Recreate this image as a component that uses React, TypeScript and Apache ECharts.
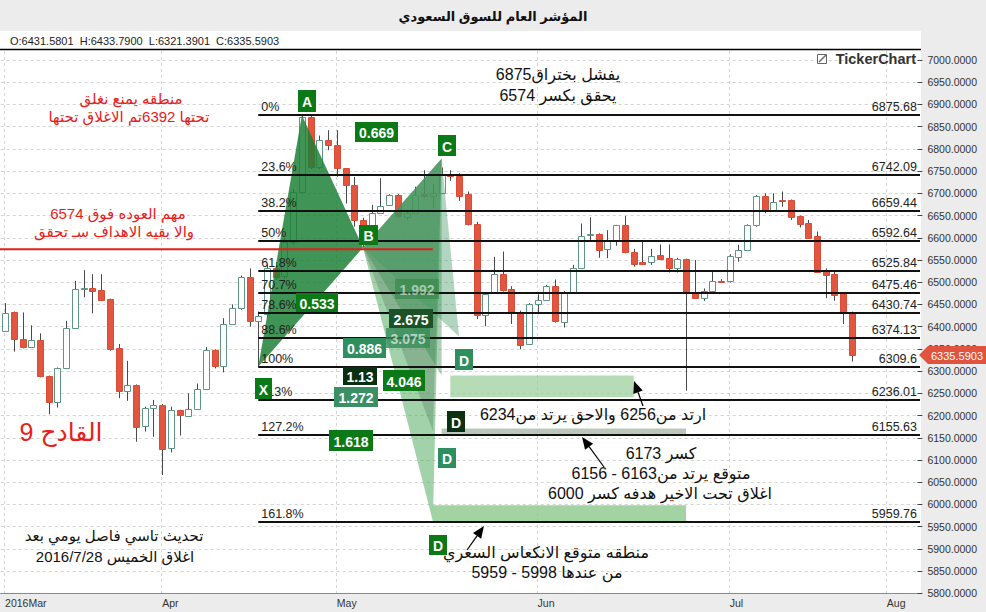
import React, { useEffect, useRef } from "react";
import * as echarts from "echarts";

// ---- trading days (Sun-Thu sessions) ----
const marDays = [8, 9, 10, 13, 14, 15, 16, 17, 20, 21, 22, 23, 24, 27, 28, 29, 30, 31];
const aprDays = [3, 4, 5, 6, 7, 10, 11, 12, 13, 14, 17, 18, 19, 20, 21, 24, 25, 26, 27, 28];
const mayDays = [1, 2, 3, 4, 5, 8, 9, 10, 11, 12, 15, 16, 17, 18, 19, 22, 23, 24, 25, 26, 29, 30, 31];
const junDays = [1, 2, 5, 6, 7, 8, 9, 12, 13, 14, 15, 16, 19, 20, 21, 22, 23, 26, 27, 28, 29, 30];
const julDays = [10, 11, 12, 13, 14, 17, 18, 19, 20, 21, 24, 25, 26, 27, 28];
const futureSlots = ["2016-07-31", "2016-08-a", "2016-08-b", "2016-08-01", "2016-08-02", "2016-08-03", "2016-08-04"];

const monthTickIdx = [0, 18, 38, 61, 83, 101];
const monthTickLabels = ["2016Mar", "Apr", "May", "Jun", "Jul", "Aug"];

// ---- OHLC ----
const opens = [6390, 6432, 6372, 6354, 6370, 6289, 6231, 6306, 6396, 6484, 6487, 6482, 6462, 6351, 6256, 6268, 6177, 6216,
  6224, 6126, 6212, 6200, 6214, 6259, 6347, 6312, 6405, 6443, 6511, 6412, 6428, 6533, 6515, 6590, 6704, 6872, 6760, 6821,
  6809, 6756, 6719, 6640, 6629, 6656, 6674, 6696, 6647, 6655, 6698, 6694, 6700, 6743, 6739, 6698, 6631, 6426, 6476, 6518, 6485, 6430, 6362,
  6450, 6460, 6491, 6411, 6476, 6533, 6606, 6608, 6574, 6593, 6628, 6567, 6545, 6545, 6561, 6554, 6533, 6552, 6476, 6465, 6481, 6503,
  6503, 6556, 6572, 6629, 6694, 6662, 6684, 6685, 6649, 6634, 6604, 6526, 6518, 6475, 6431.5801];
const closes = [6431, 6372, 6355, 6370, 6288, 6231, 6306, 6396, 6484, 6486, 6480, 6460, 6349, 6256, 6268, 6175, 6216, 6223,
  6125, 6212, 6201, 6214, 6259, 6347, 6312, 6405, 6443, 6511, 6413, 6425, 6531, 6511, 6590, 6703, 6872, 6760, 6821, 6808,
  6756, 6719, 6640, 6627, 6655, 6671, 6696, 6648, 6655, 6696, 6694, 6700, 6741, 6738, 6695, 6630, 6426, 6473, 6518, 6482, 6432, 6359, 6450,
  6460, 6491, 6413, 6476, 6533, 6605, 6609, 6572, 6593, 6628, 6567, 6542, 6541, 6559, 6552, 6533, 6552, 6476, 6465, 6481, 6503, 6500,
  6559, 6572, 6629, 6694, 6662, 6681, 6683, 6647, 6632, 6600, 6524, 6516, 6471, 6431, 6335.5903];
const lows = [6388, 6344, 6351, 6352, 6286, 6203, 6218, 6305, 6395, 6466, 6430, 6458, 6346, 6239, 6233, 6141, 6164, 6152,
  6066, 6117, 6155, 6197, 6213, 6258, 6306, 6297, 6404, 6438, 6400, 6310, 6420, 6505, 6508, 6585, 6700, 6755, 6755, 6797,
  6737, 6677, 6625, 6578, 6625, 6654, 6672, 6644, 6640, 6654, 6690, 6666, 6698, 6728, 6683, 6628, 6417, 6401, 6475, 6479, 6406, 6349, 6359,
  6428, 6458, 6409, 6398, 6475, 6532, 6591, 6555, 6554, 6582, 6565, 6535, 6539, 6539, 6550, 6522, 6522, 6256, 6463, 6458, 6480, 6499,
  6499, 6546, 6571, 6625, 6655, 6661, 6670, 6640, 6623, 6598, 6522, 6464, 6458, 6406, 6321.3901];
const highs = [6453, 6434, 6432, 6403, 6385, 6290, 6308, 6413, 6503, 6527, 6518, 6518, 6463, 6361, 6323, 6270, 6220, 6235,
  6226, 6220, 6213, 6250, 6272, 6354, 6349, 6419, 6450, 6515, 6531, 6434, 6540, 6545, 6600, 6710, 6876, 6875, 6830, 6842,
  6842, 6757, 6737, 6645, 6674, 6734, 6698, 6698, 6662, 6715, 6752, 6722, 6758, 6752, 6745, 6704, 6636, 6475, 6557, 6569, 6491, 6436, 6453,
  6473, 6494, 6506, 6480, 6539, 6632, 6646, 6610, 6617, 6629, 6649, 6575, 6593, 6575, 6585, 6585, 6555, 6553, 6550, 6486, 6525, 6507,
  6563, 6584, 6630, 6696, 6700, 6700, 6704, 6686, 6650, 6640, 6614, 6531, 6523, 6476, 6433.79];

// ---- Fibonacci levels ----
const fibPct = ["0%", "23.6%", "38.2%", "50%", "61.8%", "70.7%", "78.6%", "88.6%", "100%", "113%", "127.2%", "161.8%"];
const fibVal = [6875.68, 6742.09, 6659.44, 6592.64, 6525.84, 6475.46, 6430.74, 6374.13, 6309.6, 6236.01, 6155.63, 5959.76];
const fibTxt = ["6875.68", "6742.09", "6659.44", "6592.64", "6525.84", "6475.46", "6430.74", "6374.13", "6309.6", "6236.01", "6155.63", "5959.76"];

// ---- harmonic pattern points [index, price] ----
const ptX = [29, 6309.6];
const ptA = [34, 6875.68];
const ptB = [41, 6578];
const ptC = [50, 6778];
const dPoints = [[49, 5962], [49, 6165], [50, 6290], [52, 6378]];
const dColors = ["rgba(70,165,85,0.5)", "rgba(95,130,105,0.38)", "rgba(60,140,80,0.42)", "rgba(70,155,100,0.42)"];

// zones [i1, i2, pTop, pBottom]
const zones = [[51, 72, 6290, 6241], [50, 78, 6171, 6158], [49, 78, 5998, 5959]];
const zoneColors = ["rgba(150,205,150,0.7)", "rgba(170,185,170,0.8)", "rgba(140,200,140,0.8)"];

const supportLine = 6574;

const FONT = "Arial, 'Liberation Sans', 'DejaVu Sans', sans-serif";

function buildGraphic(chart: any) {
  const px = (i: number, v: number) => chart.convertToPixel({ gridIndex: 0 }, [i, v]);
  const els: any[] = [];
  // white panel
  els.push({ type: "rect", z: -10, silent: true, shape: { x: 0, y: 31, width: 921, height: 562.5 }, style: { fill: "#ffffff" } });
  els.push({ type: "line", z: 1, shape: { x1: 0, y1: 49.5, x2: 921, y2: 49.5 }, style: { stroke: "#000", lineWidth: 1.5 } });
  monthTickIdx.forEach((i) => {
    const x = Math.round(px(i, 6000)[0]) - 0.5;
    els.push({ type: "line", z: 1, silent: true, shape: { x1: x, y1: 51, x2: x, y2: 593 }, style: { stroke: "#d4d4d4", lineWidth: 1, lineDash: [3, 3] } });
  });
  // title & info
  els.push({ type: "text", z: 10, x: 493, y: 16, style: { text: "المؤشر العام للسوق السعودي", fill: "#111", font: `bold 13px ${FONT}`, textAlign: "center", textVerticalAlign: "middle" } });
  const n = opens.length - 1;
  const info = `O:${opens[n].toFixed(4)}  H:${highs[n].toFixed(4)}  L:${lows[n].toFixed(4)}  C:${closes[n].toFixed(4)}`;
  els.push({ type: "text", z: 10, x: 10, y: 41, style: { text: info, fill: "#222", font: `11px ${FONT}`, textAlign: "left", textVerticalAlign: "middle" } });
  // logo
  els.push({ type: "rect", z: 10, shape: { x: 817.5, y: 54.5, width: 9, height: 9 }, style: { fill: "#fff", stroke: "#666", lineWidth: 1 } });
  els.push({ type: "line", z: 10, shape: { x1: 819, y1: 62, x2: 826, y2: 55 }, style: { stroke: "#666", lineWidth: 1.5 } });
  els.push({ type: "text", z: 10, x: 916, y: 59, style: { text: "TickerChart", fill: "#333", font: `bold 14.5px ${FONT}`, textAlign: "right", textVerticalAlign: "middle" } });

  // pattern triangles
  const X = px(ptX[0], ptX[1]), A = px(ptA[0], ptA[1]), B = px(ptB[0], ptB[1]), C = px(ptC[0], ptC[1]);
  dPoints.forEach((d, k) => {
    const D = px(d[0], d[1]);
    els.push({ type: "polygon", z: 3, silent: true, shape: { points: [B, C, D] }, style: { fill: dColors[k] } });
  });
  els.push({ type: "polygon", z: 3, silent: true, shape: { points: [X, A, B] }, style: { fill: "rgba(28,128,52,0.84)" } });
  // zones
  zones.forEach((zn, k) => {
    const p1 = px(zn[0], zn[2]), p2 = px(zn[1], zn[3]);
    els.push({ type: "rect", z: 3, silent: true, shape: { x: p1[0], y: p1[1], width: p2[0] - p1[0], height: p2[1] - p1[1] }, style: { fill: zoneColors[k] } });
  });
  // fib lines
  const xs = px(ptX[0], 0)[0];
  fibVal.forEach((v, k) => {
    const y = Math.round(px(0, v)[1]);
    els.push({ type: "line", z: 4, silent: true, shape: { x1: xs, y1: y, x2: 920, y2: y }, style: { stroke: "#111", lineWidth: 2 } });
    els.push({ type: "text", z: 4, x: xs + 3, y: y - 2, style: { text: fibPct[k], fill: "#222", font: `12.5px ${FONT}`, textAlign: "left", textVerticalAlign: "bottom" } });
    els.push({ type: "text", z: 4, x: 917, y: y - 2, style: { text: fibTxt[k], fill: "#222", font: `12.5px ${FONT}`, textAlign: "right", textVerticalAlign: "bottom" } });
  });
  // red support line
  const ry = px(0, supportLine)[1];
  els.push({ type: "line", z: 4, silent: true, shape: { x1: 0, y1: ry, x2: px(49, supportLine)[0], y2: ry }, style: { stroke: "#e0201c", lineWidth: 2 } });

  // label boxes
  const box = (t: string, cx: number, cy: number, w: number, h: number, bg: string, fg = "#fff") => {
    els.push({ type: "rect", z: 6, shape: { x: cx - w / 2, y: cy - h / 2, width: w, height: h }, style: { fill: bg } });
    els.push({ type: "text", z: 7, x: cx, y: cy + 1, style: { text: t, fill: fg, font: `bold 14px ${FONT}`, textAlign: "center", textVerticalAlign: "middle" } });
  };
  box("A", 307, 101, 18, 22, "#0b7a16");
  box("B", 368.5, 235, 19, 20, "#0b7a16");
  box("C", 447, 145.5, 18, 21, "#0b7a16");
  box("X", 263.5, 388.5, 17, 21, "#0b7a16");
  box("0.669", 376.5, 132, 43, 20, "#0b7a16");
  box("0.533", 317, 302.5, 42, 19, "#0b7a16");
  box("1.992", 417, 289, 44, 20, "rgba(45,130,65,0.55)", "rgba(255,255,255,0.55)");
  box("2.675", 411, 318.5, 44, 19, "#1c5228");
  box("3.075", 408, 338, 44, 20, "rgba(55,140,90,0.8)", "rgba(255,255,255,0.6)");
  box("0.886", 364.5, 348, 43, 20, "#2f8e5e");
  box("1.13", 360, 376, 34, 18, "#0a2e10");
  box("4.046", 404, 380.5, 42, 21, "#0b7a16");
  box("1.272", 356, 397, 44, 20, "#3b8f64");
  box("1.618", 351, 440.5, 44, 21, "#0b7a16");
  box("D", 464, 359.5, 18, 21, "#2f8e5e");
  box("D", 456, 421.5, 18, 21, "#0b3012");
  box("D", 447, 458, 18, 20, "#2f8e5e");
  box("D", 438, 545, 18, 20, "#0b7a16");

  // arrows
  const arrow = (x1: number, y1: number, x2: number, y2: number) => {
    const dx = x2 - x1, dy = y2 - y1, L = Math.hypot(dx, dy), ux = dx / L, uy = dy / L;
    const hl = 12, hw = 5, bx = x2 - ux * hl, by = y2 - uy * hl;
    els.push({ type: "line", z: 6, shape: { x1, y1, x2: bx, y2: by }, style: { stroke: "#000", lineWidth: 1.2 } });
    els.push({ type: "polygon", z: 6, shape: { points: [[x2, y2], [bx - uy * hw, by + ux * hw], [bx + uy * hw, by - ux * hw]] }, style: { fill: "#000" } });
  };
  arrow(643, 406, 634, 381);
  arrow(604, 467, 582, 437);
  arrow(467, 550, 484, 526);

  // texts
  const txt = (t: string, x: number, y: number, size: number, color: string) => {
    els.push({ type: "text", z: 8, x, y, style: { text: t, fill: color, font: `${size}px ${FONT}`, textAlign: "center", textVerticalAlign: "middle" } });
  };
  const black = "#111";
  const red = "#e8201c";
  txt("يفشل بختراق6875", 558, 74, 16, black);
  txt("يحقق بكسر 6574", 558, 95, 16, black);
  txt("ارتد من6256 والاحق يرتد من6234", 593, 414, 16, black);
  txt("كسر 6173", 661, 453, 16, black);
  txt("متوقع يرتد من6163 - 6156", 661, 473, 16, black);
  txt("اغلاق تحت الاخير هدفه كسر 6000", 660, 493, 16, black);
  txt("منطقه متوقع الانكعاس السعري", 546, 552, 16, black);
  txt("من عندها 5998 - 5959", 547, 572, 16, black);
  txt("تحديث تاسي فاصل يومي بعد", 114, 535, 15, black);
  txt("اغلاق الخميس 2016/7/28", 115, 556, 15, black);
  txt("منطقه يمنع نغلق", 131, 98, 15, red);
  txt("تحتها 6392تم الاغلاق تحتها", 129, 116, 15, red);
  txt("مهم العوده فوق 6574", 118, 213, 15, red);
  txt("والا بقيه الاهداف سـ تحقق", 114, 231, 15, red);
  txt("القادح 9", 61, 432, 25, red);

  // last price tag
  const ty = Math.round(px(n, closes[n])[1]);
  els.push({ type: "polygon", z: 9, shape: { points: [[919, ty], [928, ty - 9], [986, ty - 9], [986, ty + 9], [928, ty + 9]] }, style: { fill: "#e0533f" } });
  els.push({ type: "text", z: 10, x: 957, y: ty + 1, style: { text: closes[n].toFixed(4), fill: "#fff", font: `11px ${FONT}`, textAlign: "center", textVerticalAlign: "middle" } });
  return els;
}

export default function App() {
  const ref = useRef<HTMLDivElement>(null);
  useEffect(() => {
    if (!ref.current) return;
    const chart = echarts.init(ref.current, null, { renderer: "svg" });
    const categories = [
      ...marDays.map((d) => `2016-03-${d}`),
      ...aprDays.map((d) => `2016-04-${d}`),
      ...mayDays.map((d) => `2016-05-${d}`),
      ...junDays.map((d) => `2016-06-${d}`),
      ...julDays.map((d) => `2016-07-${d}`),
      ...futureSlots,
    ];
    const seriesData = opens.map((o, i) => [i, o, closes[i], lows[i], highs[i]]);
    const renderItem = (params: any, api: any) => {
      const i = api.value(0);
      const o = api.value(1), c = api.value(2), l = api.value(3), h = api.value(4);
      const pH = api.coord([i, h]), pL = api.coord([i, l]), pO = api.coord([i, o]), pC = api.coord([i, c]);
      const x = Math.round(pH[0]) + 0.5;
      const up = c >= o;
      const top = Math.round(Math.min(pO[1], pC[1])) + 0.5;
      let bot = Math.round(Math.max(pO[1], pC[1])) + 0.5;
      if (bot - top < 1) bot = top + 1;
      return {
        type: "group",
        children: [
          { type: "line", shape: { x1: x, y1: pH[1], x2: x, y2: pL[1] }, style: { stroke: "#4a4a4a", lineWidth: 1 } },
          {
            type: "rect",
            shape: { x: x - 3, y: top, width: 6, height: bot - top },
            style: { fill: up ? "#ffffff" : "#e2553f", stroke: up ? "#5f9683" : "#d94c38", lineWidth: 1 },
          },
        ],
      };
    };
    chart.setOption({
      animation: false,
      backgroundColor: "#ececec",
      grid: { left: 0.7, right: 68.6, top: 60, bottom: 18.7, containLabel: false },
      xAxis: {
        type: "category",
        data: categories,
        boundaryGap: true,
        axisLine: { show: true, lineStyle: { color: "#8a8a8a" } },
        axisTick: { show: false },
        axisLabel: {
          interval: (idx: number) => monthTickIdx.includes(idx),
          formatter: (_v: string, idx: number) => {
            const k = monthTickIdx.indexOf(idx);
            return k >= 0 ? monthTickLabels[k] : "";
          },
          align: "left",
          color: "#333",
          fontSize: 10.5,
          fontFamily: FONT,
          margin: 4,
        },
        splitLine: { show: false },
      },
      yAxis: {
        type: "value",
        position: "right",
        min: 5800,
        max: 7000,
        interval: 50,
        axisLine: { show: false },
        axisTick: { show: true, length: 5, lineStyle: { color: "#444" } },
        axisLabel: { formatter: (v: number) => v.toFixed(4), color: "#333", fontSize: 10.5, fontFamily: FONT, margin: 10 },
        splitLine: { show: true, lineStyle: { color: "#d4d4d4", type: [3, 3] } },
      },
      series: [
        { type: "custom", renderItem, data: seriesData, encode: { x: 0, y: [1, 2, 3, 4] }, z: 2 },
      ],
    });
    chart.setOption({ graphic: { elements: buildGraphic(chart) } });
    return () => chart.dispose();
  }, []);
  return <div ref={ref} style={{ position: "fixed", left: 0, top: 0, width: 986, height: 612 }} />;
}
